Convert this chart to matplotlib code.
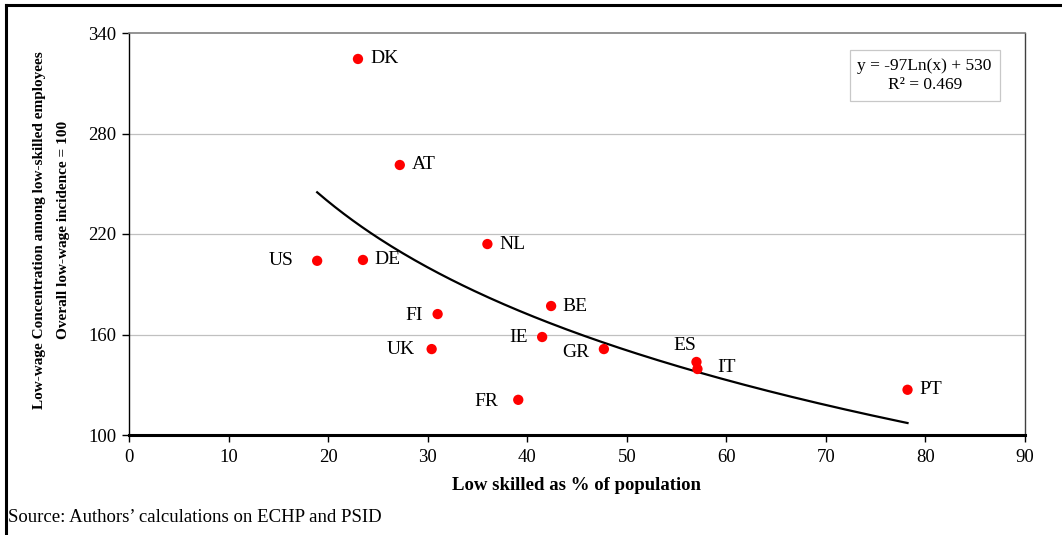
import numpy as np
import matplotlib
matplotlib.use("Agg")
import matplotlib.pyplot as plt
from matplotlib.lines import Line2D

# data
countries = ["DK", "AT", "NL", "US", "DE", "BE", "FI", "IE", "UK", "GR", "ES", "IT", "FR", "PT"]
low_skilled = [23.0, 27.2, 36.0, 18.9, 23.5, 42.4, 31.0, 41.5, 30.4, 47.7, 57.0, 57.1, 39.1, 78.2]
concentration = [324.5, 261.2, 214.0, 204.0, 204.5, 177.0, 172.2, 158.5, 151.3, 151.3, 143.6, 139.4, 121.0, 127.0]

# label offsets in pixels (dx, dy), text alignment
label_pos = {
    "DK": (12, 0, "left"), "AT": (12, 0, "left"), "NL": (12, 0, "left"),
    "US": (-24, 0, "right"), "DE": (11, 0, "left"), "BE": (11, 0, "left"),
    "FI": (-15, -1, "right"), "IE": (-14, 0, "right"), "UK": (-17, 0, "right"),
    "GR": (-15, -3, "right"), "ES": (-12, 16, "center"), "IT": (20, 2, "left"),
    "FR": (-20, -2, "right"), "PT": (12, 0, "left"),
}

# trendline y = -97 ln(x) + 530
trend_a = -97.0
trend_b = 530.0

plt.rcParams["font.family"] = ["Liberation Serif", "DejaVu Serif"]

fig = plt.figure(figsize=(10.62, 5.35), dpi=100)
ax = fig.add_axes([129 / 1062, 1 - 435 / 535, (1025 - 129) / 1062, (435 - 33) / 535])

ax.set_xlim(0, 90)
ax.set_ylim(100, 340)
ax.set_xticks(np.arange(0, 91, 10))
ax.set_yticks([100, 160, 220, 280, 340])
ax.tick_params(axis="both", labelsize=13.5, direction="out", length=5, width=1, color="black")
ax.tick_params(axis="x", pad=5)
ax.tick_params(axis="y", pad=4)

for yv in [160, 220, 280]:
    ax.axhline(yv, color="#c0c0c0", linewidth=0.9, zorder=0)

ax.spines["top"].set_color("#808080")
ax.spines["top"].set_linewidth(1.2)
ax.spines["right"].set_color("#404040")
ax.spines["right"].set_linewidth(1.0)
ax.spines["left"].set_linewidth(1.0)
ax.spines["bottom"].set_linewidth(2.2)

xs = np.linspace(min(low_skilled), max(low_skilled), 200)
ax.plot(xs, trend_a * np.log(xs) + trend_b, color="black", linewidth=1.6, zorder=2)

ax.scatter(low_skilled, concentration, s=55, color="#ff0000", edgecolor="none", zorder=3)

for c, x, y in zip(countries, low_skilled, concentration):
    dx, dy, ha = label_pos[c]
    ax.annotate(c, (x, y), xytext=(dx * 0.72, dy * 0.72), textcoords="offset points",
                ha=ha, va="center", fontsize=14)

ax.text(0.888, 0.894, "y = -97Ln(x) + 530\nR\u00b2 = 0.469", transform=ax.transAxes,
        ha="center", va="center", fontsize=12.5, linespacing=1.25,
        bbox=dict(boxstyle="square,pad=0.45", facecolor="white", edgecolor="#c8c8c8", linewidth=0.9))

ax.set_xlabel("Low skilled as % of population", fontsize=13.5, fontweight="bold", labelpad=8)

fig.text(40 / 1062, 1 - 230 / 535, "Low-wage Concentration among low-skilled employees",
         rotation=90, ha="center", va="center", fontsize=11, fontweight="bold")
fig.text(63 / 1062, 1 - 230 / 535, "Overall low-wage incidence = 100",
         rotation=90, ha="center", va="center", fontsize=11, fontweight="bold")

fig.text(8 / 1062, 1 - 518 / 535, "Source: Authors\u2019 calculations on ECHP and PSID",
         ha="left", va="center", fontsize=13.5)

# outer frame of the page figure
fig.add_artist(Line2D([6 / 1062, 1], [1 - 5 / 535, 1 - 5 / 535], color="black", linewidth=2.2,
                      transform=fig.transFigure))
fig.add_artist(Line2D([6 / 1062, 6 / 1062], [0, 1 - 5 / 535], color="black", linewidth=2.2,
                      transform=fig.transFigure))

fig.savefig("out.png", dpi=100)
